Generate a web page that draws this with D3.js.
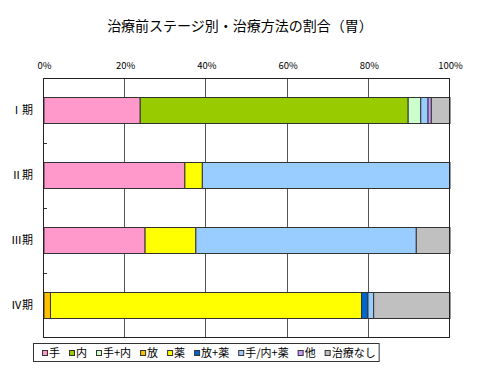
<!DOCTYPE html>
<html>
<head>
<meta charset="utf-8">
<script src="https://cdn.jsdelivr.net/npm/d3@7"></script>
<style>
  body { margin: 0; background: #fff; }
  svg { display: block; font-family: "Noto Sans CJK JP", sans-serif; }
</style>
</head>
<body>
<svg id="chart" width="480" height="375"></svg>
<script>
// 治療前ステージ別・治療方法の割合（胃）
const stages = ["Ⅰ期", "Ⅱ期", "Ⅲ期", "Ⅳ期"];
const methods = ["手", "内", "手+内", "放", "薬", "放+薬", "手/内+薬", "他", "治療なし"];
const colors = ["#FF99CC", "#99CC00", "#CCFFCC", "#FFC000", "#FFFF00", "#0066CC", "#99CCFF", "#CC99FF", "#C0C0C0"];
// 割合(%) ステージ毎、methods の順
const ratioI   = [23.7, 66.0, 3.1, 0, 0, 0, 1.8, 0.8, 4.6];
const ratioII  = [34.7, 0, 0, 0, 4.3, 0, 61.0, 0, 0];
const ratioIII = [24.9, 0, 0, 0, 12.5, 0, 54.3, 0, 8.3];
const ratioIV  = [0, 0, 0, 1.6, 76.6, 1.6, 1.4, 0, 18.8];
const tickValues = [0, 20, 40, 60, 80, 100];

const svg = d3.select("#chart");
const margin = {top: 78, left: 44, right: 30, bottom: 37};
const width = 480 - margin.left - margin.right;   // 406
const height = 375 - margin.top - margin.bottom;  // 260

// データを積み上げ用に変換
const rows = [ratioI, ratioII, ratioIII, ratioIV].map((vals, i) => {
    let row = {stage: stages[i]};
    methods.forEach((m, j) => { row[m] = vals[j]; });
    return row;
});
const series = d3.stack().keys(methods)(rows);

const x = d3.scaleLinear().domain([0, 100]).range([0, width]);
const y = d3.scaleBand().domain(stages).range([0, height]).paddingInner(0.6).paddingOuter(0.3);
const color = d3.scaleOrdinal().domain(methods).range(colors);

// タイトル
svg.append("text")
    .attr("x", 240)
    .attr("y", 31)
    .attr("text-anchor", "middle")
    .attr("font-size", 14)
    .attr("fill", "#000")
    .text("治療前ステージ別・治療方法の割合（胃）");

const g = svg.append("g")
    .attr("transform", "translate(" + margin.left + "," + margin.top + ")");

// 縦のグリッド線
g.append("g")
    .selectAll("line")
    .data(tickValues.slice(1, -1))
    .enter()
    .append("line")
    .attr("x1", d => Math.round(x(d)) - 0.5)
    .attr("x2", d => Math.round(x(d)) - 0.5)
    .attr("y1", 0)
    .attr("y2", height)
    .attr("stroke", "#555")
    .attr("stroke-width", 1);

// 積み上げ棒
g.append("g")
    .selectAll("g")
    .data(series)
    .enter()
    .append("g")
    .attr("fill", d => color(d.key))
    .selectAll("rect")
    .data(d => d.filter(s => s[1] - s[0] > 0))
    .enter()
    .append("rect")
    .attr("x", d => x(d[0]))
    .attr("y", d => y(d.data.stage))
    .attr("width", d => x(d[1]) - x(d[0]))
    .attr("height", y.bandwidth())
    .attr("stroke", "#333")
    .attr("stroke-width", 1);

// 枠
g.append("rect")
    .attr("x", -0.5)
    .attr("y", 0.5)
    .attr("width", width)
    .attr("height", height - 1)
    .attr("fill", "none")
    .attr("stroke", "#222");

// 上の目盛ラベル
g.append("g")
    .attr("transform", "translate(0,-6)")
    .call(d3.axisTop(x).tickValues(tickValues).tickSize(0).tickFormat(d => d + "%"))
    .call(a => a.select(".domain").remove())
    .selectAll("text")
    .attr("font-family", "'Noto Sans CJK JP', sans-serif")
    .attr("font-size", 9.5)
    .attr("fill", "#000");

// 左の目盛（カテゴリ境界の内向きの目盛）
g.append("g")
    .selectAll("line")
    .data(stages.slice(1))
    .enter()
    .append("line")
    .attr("x1", 0)
    .attr("x2", 3)
    .attr("y1", d => Math.round(y(d) - y.step() * 0.3) + 0.5)
    .attr("y2", d => Math.round(y(d) - y.step() * 0.3) + 0.5)
    .attr("stroke", "#333");

// カテゴリラベル
g.append("g")
    .selectAll("text")
    .data(stages)
    .enter()
    .append("text")
    .attr("x", -11)
    .attr("y", d => y(d) + y.bandwidth() / 2)
    .attr("dy", "0.35em")
    .attr("text-anchor", "end")
    .attr("font-size", 11)
    .attr("fill", "#000")
    .text(d => d);

// 凡例
const legend = svg.append("g").attr("transform", "translate(33,343)");
const legendBox = legend.append("rect")
    .attr("x", 0.5)
    .attr("y", 0.5)
    .attr("height", 18)
    .attr("fill", "#fff")
    .attr("stroke", "#333");
let lx = 9;
methods.forEach((m, i) => {
    let item = legend.append("g").attr("transform", "translate(" + lx + ",0)");
    item.append("rect")
        .attr("x", 0.5)
        .attr("y", 7.5)
        .attr("width", 5)
        .attr("height", 5)
        .attr("fill", colors[i])
        .attr("stroke", "#333");
    let t = item.append("text")
        .attr("x", 7)
        .attr("y", 10)
        .attr("dy", "0.35em")
        .attr("font-size", 11)
        .attr("fill", "#000")
        .text(m);
    lx += 7 + t.node().getComputedTextLength() + 9;
});
legendBox.attr("width", lx - 6);
</script>
</body>
</html>
